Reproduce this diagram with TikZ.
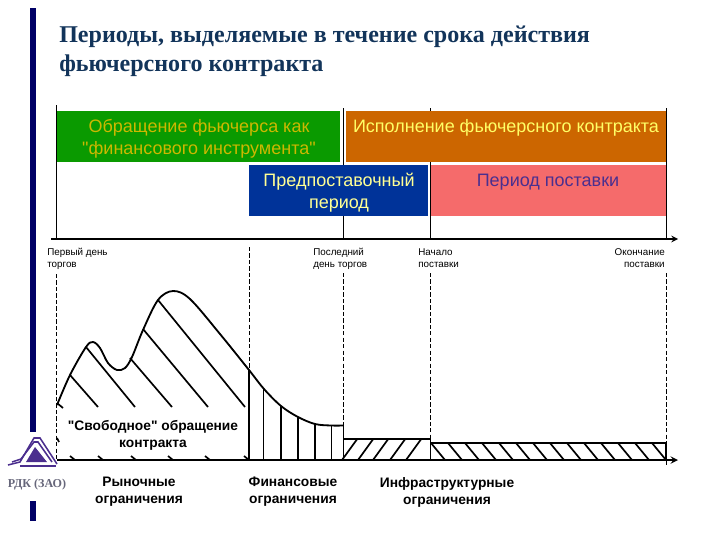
\documentclass[tikz,border=0pt]{standalone}
\usepackage{fontspec}
\newfontfamily\sanscyr{Liberation Sans}
\newfontfamily\serifcyr{Liberation Serif}
\usetikzlibrary{positioning,arrows}

\definecolor{barnavy}{HTML}{000066}
\definecolor{titleink}{HTML}{12345A}
\definecolor{boxgreen}{HTML}{0A9A00}
\definecolor{boxorange}{HTML}{CC6600}
\definecolor{boxblue}{HTML}{003399}
\definecolor{boxred}{HTML}{F56B6B}
\definecolor{inkolive}{HTML}{CCB800}
\definecolor{inkyellow}{HTML}{FFFF66}
\definecolor{inkviolet}{HTML}{4A2F8F}
\definecolor{logoviolet}{HTML}{4B2E8E}
\definecolor{logogray}{HTML}{66667A}

\tikzset{
  titletext/.style={anchor=base west,inner sep=0pt,text=titleink,font=\serifcyr\bfseries\fontsize{17.1}{20}\selectfont},
  bandtext/.style={inner sep=0pt,align=center,font=\sanscyr\fontsize{12.8}{15.8}\selectfont},
  ticktext/.style={inner sep=0pt,font=\sanscyr\fontsize{7}{8.6}\selectfont},
  limittext/.style={inner sep=0pt,align=center,font=\sanscyr\bfseries\fontsize{9.8}{12.1}\selectfont},
  guide/.style={line width=0.6pt},
  guidedash/.style={line width=0.6pt,dashed,dash pattern=on 3pt off 1.6pt},
  profile/.style={line width=1.3pt},
  hatch/.style={line width=1.2pt},
  logoline/.style={logoviolet,line width=1.1pt}
}

\begin{document}
\begin{tikzpicture}[x=0.025cm,y=-0.025cm,>=stealth]
        \useasboundingbox (0,0) rectangle (720,540);

        \fill[barnavy] (30,8) rectangle (35.5,432);

        \fill[barnavy] (30,501) rectangle (35.5,521);

        \draw (59,42) node[titletext] (title1) {Периоды, выделяемые в течение срока действия};

        \draw (59,71) node[titletext] (title2) {фьючерсного контракта};

        \draw[guide] (56.7,105) -- (56.7,239);

        \draw[guide] (343.5,108) -- (343.5,239);

        \draw[guide] (430.5,108) -- (430.5,239);

        \draw[guide] (666,108) -- (666,239);

        \fill[boxgreen] (56.7,111) rectangle (340,162);

        \fill[boxorange] (346,111) rectangle (666,162);

        \fill[boxblue] (249,165) rectangle (428,216);

        \fill[boxred] (431,165) rectangle (666,216);

        \draw (199,139) node[bandtext,text=inkolive] (trade) {Обращение фьючерса как\\"финансового инструмента"};

        \draw (506,128) node[bandtext,text=inkyellow] (execution) {Исполнение фьючерсного контракта};

        \draw (339,193) node[bandtext,text=inkyellow!70!white] (predelivery) {Предпоставочный\\период};

        \draw (548,182) node[bandtext,text=inkviolet] (delivery) {Период поставки};

        \draw (51,239) coordinate (top0) (678,239) coordinate (top1);

        \draw[line width=1.1pt,->] (top0) to (top1);

        \draw (47,255) node[ticktext,anchor=base west] (first1) {Первый день};

        \draw (47,267) node[ticktext,anchor=base west] (first2) {торгов};

        \draw (313,255) node[ticktext,anchor=base west] (last1) {Последний};

        \draw (313,267) node[ticktext,anchor=base west] (last2) {день торгов};

        \draw (418,255) node[ticktext,anchor=base west] (start1) {Начало};

        \draw (418,267) node[ticktext,anchor=base west] (start2) {поставки};

        \draw (665,255) node[ticktext,anchor=base east] (end1) {Окончание};

        \draw (665,267) node[ticktext,anchor=base east] (end2) {поставки};

        \draw[guidedash] (56.7,274) -- (56.7,460);

        \draw[guidedash] (249,247) -- (249,460);

        \draw[guidedash] (343.5,273) -- (343.5,460);

        \draw[guidedash] (430.5,273) -- (430.5,460);

        \draw[guidedash] (666,273) -- (666,465);

        \draw[profile] plot[smooth,tension=0.55] coordinates {(57,405) (70,375) (86,347) (93,342) (100,348) (108,363) (117,370) (125,368) (132,357) (143,330) (158,300) (173,291) (190,299) (220,334) (249,370) (264,389) (281,406) (298,417) (315,424) (331,425.5) (343.5,425.5)};

        \draw[hatch] (57,403) -- (63,408);

        \draw[hatch] (70,375) -- (98,407);

        \draw[hatch] (86,347) -- (135,407);

        \draw[hatch] (130,358) -- (172,407);

        \draw[hatch] (143,329) -- (208,407);

        \draw[hatch] (158,300) -- (245,407);

        \foreach \tickx in {75,103,136,173,210,249} {
          \draw[hatch] (\tickx-5,456) -- (\tickx,460);
        }

        \draw[hatch] (57,438) -- (59,442);

        \foreach \barx/\bartop in {249/370,263.5/388,281/406,298/417,315/424,331.5/425.5,343.5/425.5} {
          \draw[line width=1.3pt] (\barx,\bartop) -- (\barx,460);
        }

        \draw[profile] (343.5,439.3) -- (430.5,439.3) -- (430.5,460);

        \draw[profile] (430.5,443) -- (666,443) -- (666,460);

        \foreach \slashx in {357,373,388,405,421} {
          \draw[hatch] (\slashx-15,460) -- (\slashx,439.3);
        }

        \foreach \backx in {431,448,465,482,499,516,533,550,567,584,601,618,635,652} {
          \draw[hatch] (\backx,443) -- (\backx+14,460);
        }

        \draw (153,435) node[limittext,text=black] (free) {"Свободное" обращение\\контракта};

        \draw[line width=1.3pt,->] (57,460) to (678,460);

        \draw (139,492) node[limittext] (market) {Рыночные\\ограничения};

        \draw (293,492) node[limittext] (finance) {Финансовые\\ограничения};

        \draw (447,492) node[limittext] (infra) {Инфраструктурные\\ограничения};

        \fill[logoviolet] (35,447) -- (47,462) -- (26,462) -- cycle;

        \draw[logoline] (8,465) -- (20,462) -- (34,438) -- (40,438) -- (57,464);

        \draw[logoline] (12,462) -- (21,459) -- (34,442) -- (38,442) -- (52,462);

        \draw[logoline] (20,466) -- (56,466);

        \draw (37,485) node[inner sep=0pt,text=logogray,font=\serifcyr\bfseries\fontsize{8.6}{10}\selectfont] (logo) {РДК (ЗАО)};
      \end{tikzpicture}
\end{document}
